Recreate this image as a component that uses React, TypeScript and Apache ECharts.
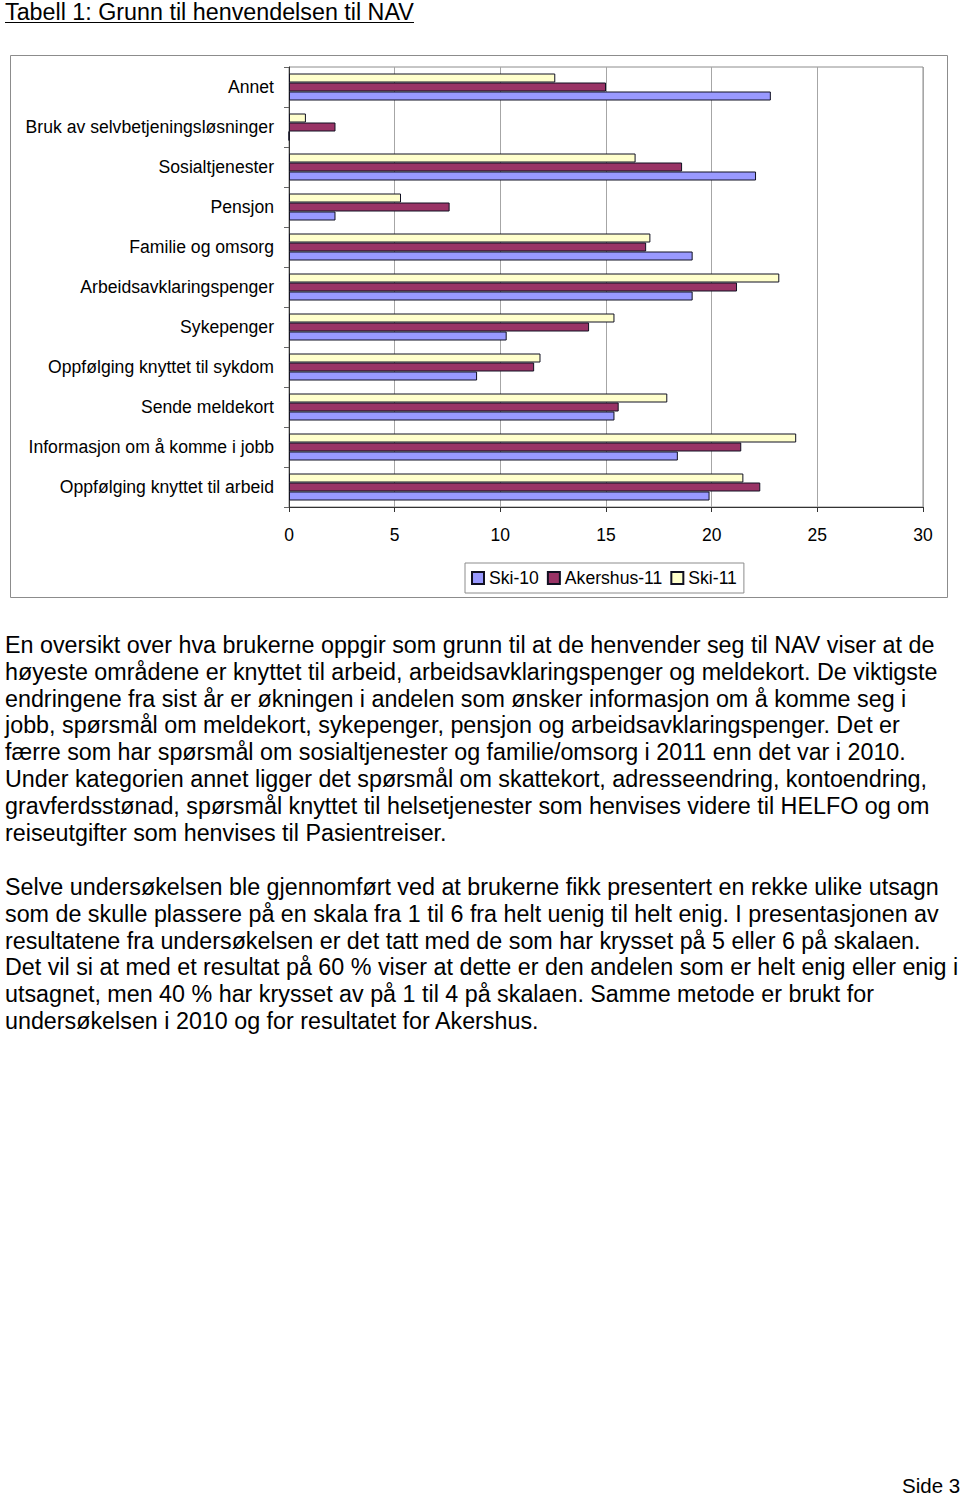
import React, { useEffect, useRef } from "react";
import * as echarts from "echarts";

const FONT = '"Liberation Sans", Arial, Helvetica, sans-serif';

const categories = [
  "Oppfølging knyttet til arbeid",
  "Informasjon om å komme i jobb",
  "Sende meldekort",
  "Oppfølging knyttet til sykdom",
  "Sykepenger",
  "Arbeidsavklaringspenger",
  "Familie og omsorg",
  "Pensjon",
  "Sosialtjenester",
  "Bruk av selvbetjeningsløsninger",
  "Annet",
];

const ski10 = [19.9, 18.4, 15.4, 8.9, 10.3, 19.1, 19.1, 2.2, 22.1, 0, 22.8];
const akershus11 = [22.3, 21.4, 15.6, 11.6, 14.2, 21.2, 16.9, 7.6, 18.6, 2.2, 15.0];
const ski11 = [21.5, 24.0, 17.9, 11.9, 15.4, 23.2, 17.1, 5.3, 16.4, 0.8, 12.6];

const seriesNames = ["Ski-10", "Akershus-11", "Ski-11"];
const seriesColors = ["#9999FF", "#993366", "#FFFFCC"];
const xTicks = { min: 0, max: 30, interval: 5 };

const title = "Tabell 1: Grunn til henvendelsen til NAV";

const paragraph1 = [
  "En oversikt over hva brukerne oppgir som grunn til at de henvender seg til NAV viser at de",
  "høyeste områdene er knyttet til arbeid, arbeidsavklaringspenger og meldekort. De viktigste",
  "endringene fra sist år er økningen i andelen som ønsker informasjon om å komme seg i",
  "jobb, spørsmål om meldekort, sykepenger, pensjon og arbeidsavklaringspenger. Det er",
  "færre som har spørsmål om sosialtjenester og familie/omsorg i 2011 enn det var i 2010.",
  "Under kategorien annet ligger det spørsmål om skattekort, adresseendring, kontoendring,",
  "gravferdsstønad, spørsmål knyttet til helsetjenester som henvises videre til HELFO og om",
  "reiseutgifter som henvises til Pasientreiser.",
];

const paragraph2 = [
  "Selve undersøkelsen ble gjennomført ved at brukerne fikk presentert en rekke ulike utsagn",
  "som de skulle plassere på en skala fra 1 til 6 fra helt uenig til helt enig. I presentasjonen av",
  "resultatene fra undersøkelsen er det tatt med de som har krysset på 5 eller 6 på skalaen.",
  "Det vil si at med et resultat på 60 % viser at dette er den andelen som er helt enig eller enig i",
  "utsagnet, men 40 % har krysset av på 1 til 4 på skalaen. Samme metode er brukt for",
  "undersøkelsen i 2010 og for resultatet for Akershus.",
];

const footer = "Side 3";

export default function App() {
  const ref = useRef<HTMLDivElement>(null);

  useEffect(() => {
    if (!ref.current) return;
    const chart = echarts.init(ref.current, undefined, { renderer: "svg" });

    const textEl = (text: string, x: number, y: number, size: number) => ({
      type: "text",
      x,
      y,
      style: {
        text,
        font: `${size}px ${FONT}`,
        fill: "#000",
        verticalAlign: "middle",
        align: "left",
      },
    });

    const graphics: any[] = [];
    graphics.push(textEl(title, 5, 12, 23.3));
    graphics.push({
      type: "line",
      shape: { x1: 5, y1: 22.5, x2: 414, y2: 22.5 },
      style: { stroke: "#000", lineWidth: 1 },
    });
    graphics.push({
      type: "rect",
      shape: { x: 10.5, y: 55.5, width: 937, height: 542 },
      style: { fill: "none", stroke: "#8c8c8c", lineWidth: 1 },
      z: -1,
    });
    paragraph1.forEach((line, i) => graphics.push(textEl(line, 5, 645 + i * 26.8, 23.3)));
    paragraph2.forEach((line, i) => graphics.push(textEl(line, 5, 887 + i * 26.8, 23.3)));
    graphics.push(textEl(footer, 902, 1485, 20.5));

    const data = [ski10, akershus11, ski11];
    // top-to-bottom within each group: Ski-11, Akershus-11, Ski-10
    const order = [2, 1, 0];
    const series = order.map((k) => ({
      name: seriesNames[k],
      type: "bar",
      data: data[k],
      barWidth: 9,
      barGap: "0%",
      itemStyle: { color: seriesColors[k], borderColor: "#111122", borderWidth: 1 },
    }));

    chart.setOption({
      animation: false,
      backgroundColor: "#fff",
      grid: {
        left: 289,
        top: 67,
        width: 634,
        height: 440,
        show: true,
        borderColor: "#8c8c8c",
        borderWidth: 1,
        backgroundColor: "transparent",
      },
      xAxis: {
        type: "value",
        min: xTicks.min,
        max: xTicks.max,
        interval: xTicks.interval,
        axisLine: { show: true, lineStyle: { color: "#333" } },
        axisTick: { show: true, length: 5, lineStyle: { color: "#333" } },
        splitLine: { show: true, lineStyle: { color: "#a6a6a6", width: 1 } },
        axisLabel: { fontSize: 17.5, color: "#000", fontFamily: FONT, margin: 19 },
      },
      yAxis: {
        type: "category",
        data: categories,
        axisLine: { show: true, lineStyle: { color: "#333" } },
        axisTick: { show: true, length: 5, lineStyle: { color: "#666" } },
        axisLabel: { fontSize: 17.6, color: "#000", fontFamily: FONT, margin: 15 },
        splitLine: { show: false },
      },
      legend: {
        data: seriesNames,
        left: 465,
        top: 563,
        orient: "horizontal",
        icon: "rect",
        itemWidth: 12,
        itemHeight: 12,
        itemGap: 8,
        padding: [6, 7, 6, 6],
        borderColor: "#8c8c8c",
        borderWidth: 1,
        textStyle: { fontSize: 17.6, color: "#000", fontFamily: FONT },
      },
      series,
      graphic: graphics,
    });

    return () => chart.dispose();
  }, []);

  return (
    <div
      ref={ref}
      style={{ position: "absolute", left: 0, top: 0, width: 960, height: 1495 }}
    />
  );
}
